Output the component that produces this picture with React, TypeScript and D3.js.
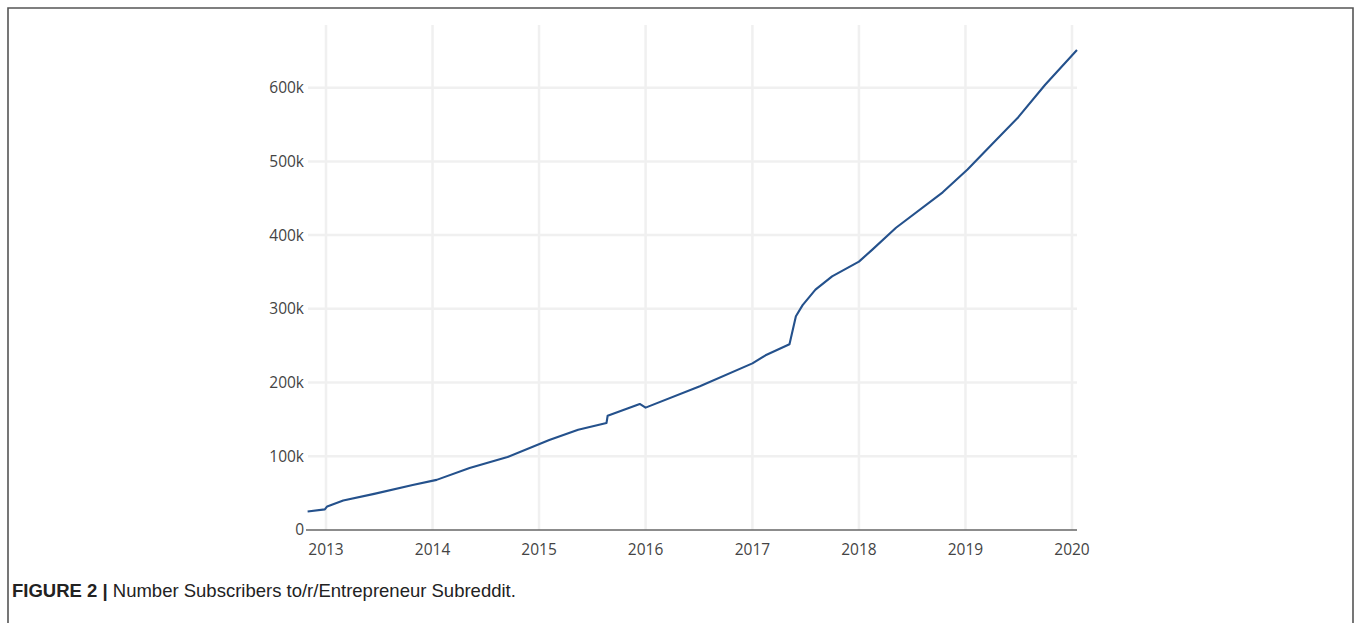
import React from "react";
import * as d3 from "d3";

const dates: string[] = [
  "2012-10-30", "2012-12-28", "2013-01-05", "2013-03-01", "2013-06-15", "2013-10-25",
  "2014-01-15", "2014-05-08", "2014-09-15", "2015-02-05", "2015-05-15", "2015-08-20",
  "2015-08-24", "2015-12-12", "2016-01-01", "2016-07-05", "2017-01-01", "2017-02-15",
  "2017-05-08", "2017-05-30", "2017-06-22", "2017-08-05", "2017-10-01", "2018-01-01",
  "2018-02-15", "2018-05-08", "2018-10-15", "2019-01-08", "2019-04-01", "2019-07-01",
  "2019-10-01", "2020-01-18",
];
const subscribers: number[] = [
  25000, 28000, 32000, 40000, 49000, 61000,
  68000, 84000, 99000, 122000, 136000, 145000,
  155000, 171000, 166000, 195000, 226000, 237000,
  252000, 290000, 305000, 326000, 344000, 364000,
  380000, 410000, 458000, 489000, 523000, 560000,
  604000, 651000,
];
const yearTicks: number[] = [2013, 2014, 2015, 2016, 2017, 2018, 2019, 2020];
const yTicks: number[] = [0, 100000, 200000, 300000, 400000, 500000, 600000];
const yTickLabels: string[] = ["0", "100k", "200k", "300k", "400k", "500k", "600k"];
const captionBold = "FIGURE 2 |";
const captionText = " Number Subscribers to/r/Entrepreneur Subreddit.";

export default function App() {
  const W = 1354, H = 623;
  const plotLeft = 308, plotRight = 1077, plotTop = 25, plotBottom = 530;
  const parse = d3.timeParse("%Y-%m-%d");
  const x = d3
    .scaleTime()
    .domain([new Date(2013, 0, 1), new Date(2020, 0, 1)])
    .range([326, 1072]);
  const y = d3.scaleLinear().domain([0, 685000]).range([plotBottom, plotTop]);
  const data = dates.map((d, i) => ({ date: parse(d) as Date, value: subscribers[i] }));
  const line = d3
    .line<{ date: Date; value: number }>()
    .x((d) => x(d.date))
    .y((d) => y(d.value));

  const tickFont = "'Open Sans', sans-serif";
  return (
    <div style={{ position: "absolute", left: 0, top: 0 }}>
      <svg width={W} height={H} style={{ display: "block", background: "#fff" }}>
        <path d={`M8,${H + 2}V8H1353V${H + 2}`} fill="none" stroke="#555" strokeWidth={1.6} />
        {yearTicks.map((yr) => {
          const px = x(new Date(yr, 0, 1));
          return (
            <line key={"vx" + yr} x1={px} x2={px} y1={plotTop} y2={plotBottom} stroke="#f0f0f0" strokeWidth={2.5} />
          );
        })}
        {yTicks.slice(1).map((v) => (
          <line key={"hy" + v} x1={plotLeft} x2={plotRight} y1={y(v)} y2={y(v)} stroke="#f0f0f0" strokeWidth={2.5} />
        ))}
        <line x1={plotLeft - 2} x2={plotRight} y1={plotBottom} y2={plotBottom} stroke="#666" strokeWidth={1.6} />
        <path d={line(data) || ""} fill="none" stroke="#24518c" strokeWidth={2.1} strokeLinejoin="round" />
        {yTicks.map((v, i) => (
          <text
            key={"yl" + v}
            x={plotLeft - 4}
            y={y(v)}
            dy="0.35em"
            textAnchor="end"
            fontFamily={tickFont}
            fontSize={15.5}
            fill="#444"
          >
            {yTickLabels[i]}
          </text>
        ))}
        {yearTicks.map((yr) => (
          <text
            key={"xl" + yr}
            x={x(new Date(yr, 0, 1))}
            y={555}
            textAnchor="middle"
            fontFamily={tickFont}
            fontSize={15.5}
            fill="#444"
          >
            {String(yr)}
          </text>
        ))}
        <text x={12} y={597} fontFamily="'Liberation Sans', Arial, sans-serif" fontSize={18.5} fill="#222">
          <tspan fontWeight="bold">{captionBold}</tspan>
          <tspan>{captionText}</tspan>
        </text>
      </svg>
    </div>
  );
}
